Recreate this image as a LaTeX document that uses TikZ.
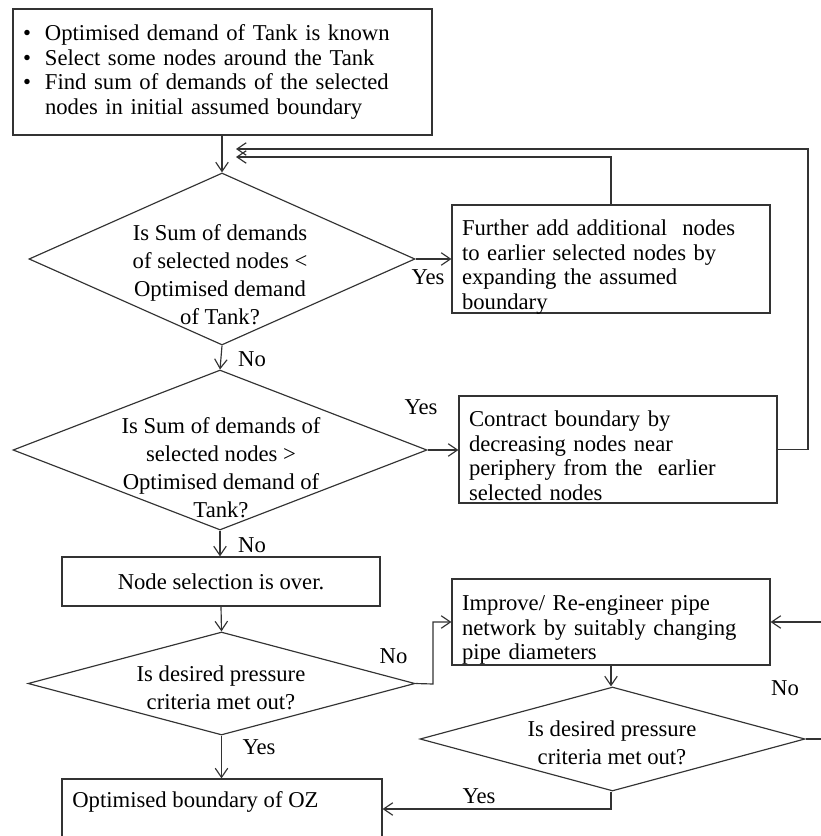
\documentclass[tikz,border=0pt]{standalone}
\usepackage{fontspec}
\setmainfont{Liberation Serif}
\usetikzlibrary{shapes.geometric,arrows.meta}
\definecolor{ink}{HTML}{333333}
\begin{document}
\begin{tikzpicture}[x=0.6pt,y=-0.6pt,
  every node/.style={text=black},
  boxtxt/.style={font=\fontsize{13.6}{14.7}\selectfont},
  diatxt/.style={font=\fontsize{13.6}{16.8}\selectfont, align=center, inner sep=0pt},
  box/.style={draw=ink, line width=0.7pt, rectangle, inner sep=0pt, boxtxt},
  lbox/.style={box, align=left, inner xsep=6pt},
  ltxt/.style={boxtxt, align=left, inner sep=0pt, text width=178.8pt},
  dia/.style={draw=ink, line width=0.7pt, diamond, inner sep=0pt},
  flow/.style={draw=ink, line width=0.7pt, -{Straight Barb[length=5.5pt,width=7.5pt]}},
  lab/.style={font=\fontsize{13.6}{14.4}\selectfont, inner sep=0pt}]
\useasboundingbox (0,0) rectangle (821,836);
\clip (0,0) rectangle (821,836);

% process boxes
\node[lbox, minimum height=75.6pt, text width=239.4pt] (start) at (222.5,72)
  {\makebox[13.2pt][l]{\textbullet}Optimised demand of Tank is known\\
   \makebox[13.2pt][l]{\textbullet}Select some nodes around the Tank\\
   \makebox[13.2pt][l]{\textbullet}Find sum of demands of the selected\\
   \hspace*{13.2pt}nodes in initial assumed boundary};

\node[box, minimum width=190.8pt, minimum height=64.8pt] (expand) at (611,259) {};
\node[ltxt] (expandt) at (611,267)
  {Further add additional\ \ nodes\\ to earlier selected nodes by\\ expanding the assumed\\ boundary};

\node[box, minimum width=190.8pt, minimum height=64.2pt] (contract) at (618,449.5) {};
\node[ltxt] (contractt) at (618,455.5)
  {Contract boundary by\\ decreasing nodes near\\ periphery from the\ \ earlier\\ selected nodes};

\node[box, minimum width=190.8pt, minimum height=29.4pt] (over) at (221,581.5)
  {Node selection is over.};

\node[box, minimum width=190.8pt, minimum height=51.6pt] (improve) at (611,622) {};
\node[ltxt] (improvet) at (611,630)
  {Improve/ Re-engineer pipe\\ network by suitably changing\\ pipe diameters};

\node[box, minimum width=192pt, minimum height=36pt] (final) at (222,809) {};
\node[boxtxt, anchor=west, inner sep=0pt] (finalt) at (72,802) {Optimised boundary of OZ};

% decisions
\node[dia, minimum width=231.6pt, minimum height=103.2pt] (d1) at (222,259) {};
\node[diatxt] (d1t) at (220,274.5)
  {Is Sum of demands\\ of selected nodes <\\ Optimised demand\\ of Tank?};

\node[dia, minimum width=248.4pt, minimum height=96pt] (d2) at (220,450) {};
\node[diatxt] (d2t) at (221,467.5)
  {Is Sum of demands of\\ selected nodes >\\ Optimised demand of\\ Tank?};

\node[dia, minimum width=232.2pt, minimum height=61.8pt] (d3) at (221.5,683.5) {};
\node[diatxt] (d3t) at (221,687.5)
  {Is desired pressure\\ criteria met out?};

\node[dia, minimum width=231pt, minimum height=62.4pt] (d4) at (612.5,739) {};
\node[diatxt] (d4t) at (612,742.5)
  {Is desired pressure\\ criteria met out?};

% bends and loop-back ends
\coordinate (backA) at (236,157);
\coordinate (backB) at (236,149);
\coordinate (outerR) at (808,449.5);
\coordinate (jogL) at (433,684);
\coordinate (jogR) at (823,739);
\coordinate (yesrow) at (0,809);

% connectors
\draw[flow] (start.south -| d1.north) -- (d1.north);
\draw[flow] (d1.east) -- (d1.east -| expand.west);
\draw[flow] (expand.north) |- (backA);
\draw[flow] (contract.east) -- (outerR) |- (backB);
\draw[flow] (d1.south) -- (d2.north);
\draw[flow] (d2.east) -- (d2.east -| contract.west);
\draw[flow] (d2.south) -- (d2.south |- over.north);
\draw[flow] (over.south) -- (d3.north);
\draw[flow] (d3.east) -- (jogL) |- (improve.west);
\draw[flow] (improve.south) -- (improve.south |- d4.north);
\draw[flow] (d4.east) -- (jogR) |- (improve.east);
\draw[flow] (d4.south -| improve.south) |- (final.east |- yesrow);
\draw[flow] (d3.south) -- (d3.south |- final.north);

% branch labels
\node[lab] (y1) at (428,277) {Yes};
\node[lab] (n1) at (252,359) {No};
\node[lab] (y2) at (421,407) {Yes};
\node[lab] (n2) at (252,545) {No};
\node[lab] (n3) at (393.5,656) {No};
\node[lab] (y3) at (259,747) {Yes};
\node[lab] (n4) at (785,688) {No};
\node[lab] (y4) at (479,796) {Yes};
\end{tikzpicture}
\end{document}
